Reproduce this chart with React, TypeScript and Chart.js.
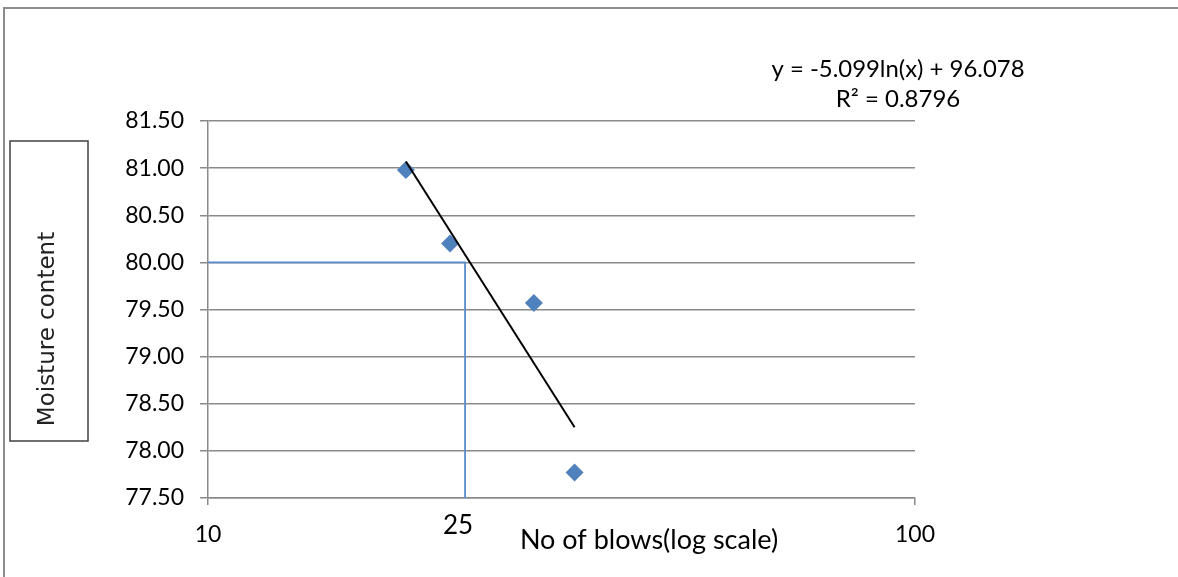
import React, { useEffect, useRef } from "react";
import { Chart, registerables } from "chart.js";

Chart.register(...registerables);

// ---- data ----
const blows = [19.05, 22.0, 28.9, 33.0];
const moisture = [80.98, 80.2, 79.57, 77.77];

// trendline end points (y = -5.099 ln(x) + 96.078)
const trendX = [19.05, 33.0];
const trendY = [81.07, 78.25];

// liquid-limit reference lines
const refX = [10, 23.1, 23.1];
const refY = [80.0, 80.0, 77.5];

const yTicks = [77.5, 78.0, 78.5, 79.0, 79.5, 80.0, 80.5, 81.0, 81.5];
const xTicks = [10, 100];

const equationText = "y = -5.099ln(x) + 96.078";
const r2Text = "R\u00B2 = 0.8796";
const xTitle = "No of blows(log scale)";
const yTitle = "Moisture content";
const markLabel = "25";

const FONT = "Lato, 'Liberation Sans', sans-serif";
const GRID = "#8a8a8a";
const BLUE = "#4F81BD";

const W = 1178;
const H = 577;

const overlay = {
  id: "overlay",
  beforeDraw(chart: any) {
    const ctx = chart.ctx;
    ctx.save();
    ctx.fillStyle = "#ffffff";
    ctx.fillRect(0, 0, W, H);
    ctx.strokeStyle = "#8c8c8c";
    ctx.lineWidth = 2;
    ctx.beginPath();
    ctx.moveTo(4, H);
    ctx.lineTo(4, 8);
    ctx.lineTo(W, 8);
    ctx.stroke();
    ctx.restore();
  },
  afterDraw(chart: any) {
    const ctx = chart.ctx;
    const xs = chart.scales.x;
    ctx.save();
    ctx.fillStyle = "#000000";
    // equation
    ctx.font = `24px ${FONT}`;
    ctx.textAlign = "center";
    ctx.textBaseline = "middle";
    ctx.fillText(equationText, 898, 69, 253);
    ctx.fillText(r2Text, 898, 99);
    // "25" mark label
    ctx.font = `26px ${FONT}`;
    ctx.fillText(markLabel, xs.getPixelForValue(refX[1]) - 7, 526);
    // x title
    ctx.font = `27px ${FONT}`;
    ctx.textBaseline = "alphabetic";
    ctx.fillText(xTitle, 649, 549, 262);
    // y title box
    ctx.strokeStyle = "#404040";
    ctx.lineWidth = 1.5;
    ctx.strokeRect(10, 141, 78, 300);
    ctx.translate(48, 329);
    ctx.rotate(-Math.PI / 2);
    ctx.font = `23px 'DejaVu Sans', sans-serif`;
    ctx.fillStyle = "#222222";
    ctx.textBaseline = "middle";
    ctx.fillText(yTitle, 0, 0, 203);
    ctx.restore();
  },
};

export default function App() {
  const ref = useRef<HTMLCanvasElement | null>(null);

  useEffect(() => {
    if (!ref.current) return;
    const chart = new Chart(ref.current, {
      type: "scatter",
      data: {
        datasets: [
          {
            type: "line",
            label: "trend",
            data: trendX.map((x, i) => ({ x, y: trendY[i] })),
            borderColor: "#000000",
            borderWidth: 2,
            pointRadius: 0,
            showLine: true,
            fill: false,
          },
          {
            label: "points",
            data: blows.map((x, i) => ({ x, y: moisture[i] })),
            pointStyle: "rectRot",
            pointRadius: 9,
            backgroundColor: BLUE,
            borderColor: BLUE,
            borderWidth: 0,
            showLine: false,
          },
          {
            type: "line",
            label: "ref",
            data: refX.map((x, i) => ({ x, y: refY[i] })),
            borderColor: "#5a8ccb",
            borderWidth: 1.8,
            pointRadius: 0,
            showLine: true,
            fill: false,
          },
        ],
      } as any,
      options: {
        responsive: false,
        animation: false,
        devicePixelRatio: 1,
        layout: { padding: { left: 0, top: 121, right: W - 915, bottom: 0 } },
        plugins: {
          legend: { display: false },
          tooltip: { enabled: false },
          title: { display: false },
        },
        scales: {
          x: {
            type: "logarithmic",
            min: 10,
            max: 100,
            afterFit(scale: any) {
              scale.height = H - 498;
            },
            afterBuildTicks(scale: any) {
              scale.ticks = xTicks.map((v) => ({ value: v }));
            },
            grid: {
              drawOnChartArea: false,
              drawTicks: true,
              tickLength: 7,
              color: GRID,
              lineWidth: 1.5,
            },
            border: { display: true, color: GRID, width: 1.5 },
            ticks: {
              autoSkip: false,
              maxRotation: 0,
              padding: 16,
              color: "#000000",
              font: { family: FONT, size: 23 },
              callback: (v: any) => String(v),
            },
          },
          y: {
            min: 77.5,
            max: 81.5,
            afterFit(scale: any) {
              scale.width = 208;
            },
            afterBuildTicks(scale: any) {
              scale.ticks = yTicks.map((v) => ({ value: v }));
            },
            grid: {
              color: GRID,
              lineWidth: 1.5,
              tickLength: 8,
              drawTicks: true,
            },
            border: { display: true, color: GRID, width: 1.5 },
            ticks: {
              autoSkip: false,
              padding: 16,
              color: "#000000",
              font: { family: FONT, size: 23 },
              callback: (v: any) => Number(v).toFixed(2),
            },
          },
        },
      } as any,
      plugins: [overlay],
    });
    return () => chart.destroy();
  }, []);

  return (
    <canvas
      ref={ref}
      width={W}
      height={H}
      style={{ position: "fixed", left: 0, top: 0, width: W, height: H }}
    />
  );
}
